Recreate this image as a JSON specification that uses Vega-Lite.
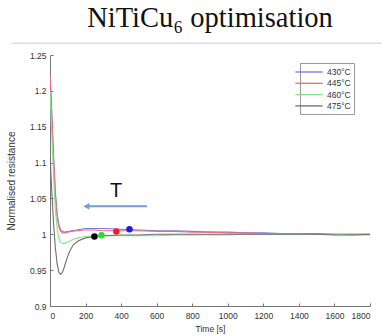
{
  "$schema": "https://vega.github.io/schema/vega-lite/v6.json",
  "width": 320,
  "height": 251,
  "autosize": "none",
  "padding": {"left": 50, "top": 55, "right": 12, "bottom": 30},
  "background": "white",
  "title": {
    "text": "NiTiCu₆ optimisation",
    "font": "Liberation Serif",
    "fontSize": 28.5,
    "fontWeight": "normal",
    "color": "#111",
    "anchor": "middle",
    "offset": 10
  },
  "config": {
    "view": {"stroke": null},
    "font": "Liberation Sans",
    "axis": {
      "domainColor": "#777",
      "tickColor": "#777",
      "labelColor": "#333",
      "titleColor": "#333",
      "labelFont": "Liberation Sans",
      "titleFont": "Liberation Sans",
      "labelFontSize": 8.5,
      "titleFontWeight": "normal",
      "labelOverlap": false,
      "grid": false
    }
  },
  "datasets": {
    "curves": [
      {"t": 0, "r": 1.225, "s": "430°C"}, {"t": 10, "r": 1.17, "s": "430°C"}, {"t": 20, "r": 1.11, "s": "430°C"}, {"t": 30, "r": 1.06, "s": "430°C"}, {"t": 40, "r": 1.028, "s": "430°C"}, {"t": 50, "r": 1.013, "s": "430°C"}, {"t": 60, "r": 1.006, "s": "430°C"}, {"t": 70, "r": 1.004, "s": "430°C"}, {"t": 80, "r": 1.003, "s": "430°C"}, {"t": 100, "r": 1.004, "s": "430°C"}, {"t": 120, "r": 1.005, "s": "430°C"}, {"t": 150, "r": 1.006, "s": "430°C"}, {"t": 200, "r": 1.008, "s": "430°C"}, {"t": 250, "r": 1.008, "s": "430°C"}, {"t": 300, "r": 1.008, "s": "430°C"}, {"t": 400, "r": 1.007, "s": "430°C"}, {"t": 500, "r": 1.006, "s": "430°C"}, {"t": 600, "r": 1.005, "s": "430°C"}, {"t": 700, "r": 1.005, "s": "430°C"}, {"t": 800, "r": 1.004, "s": "430°C"}, {"t": 900, "r": 1.003, "s": "430°C"}, {"t": 1000, "r": 1.003, "s": "430°C"}, {"t": 1100, "r": 1.002, "s": "430°C"}, {"t": 1200, "r": 1.002, "s": "430°C"}, {"t": 1300, "r": 1.001, "s": "430°C"}, {"t": 1400, "r": 1.001, "s": "430°C"}, {"t": 1500, "r": 1.001, "s": "430°C"}, {"t": 1600, "r": 1.0, "s": "430°C"}, {"t": 1700, "r": 1.0, "s": "430°C"}, {"t": 1800, "r": 1.0, "s": "430°C"},

      {"t": 0, "r": 1.222, "s": "445°C"}, {"t": 10, "r": 1.165, "s": "445°C"}, {"t": 20, "r": 1.105, "s": "445°C"}, {"t": 30, "r": 1.055, "s": "445°C"}, {"t": 40, "r": 1.025, "s": "445°C"}, {"t": 50, "r": 1.01, "s": "445°C"}, {"t": 60, "r": 1.004, "s": "445°C"}, {"t": 70, "r": 1.002, "s": "445°C"}, {"t": 80, "r": 1.002, "s": "445°C"}, {"t": 100, "r": 1.003, "s": "445°C"}, {"t": 120, "r": 1.004, "s": "445°C"}, {"t": 150, "r": 1.005, "s": "445°C"}, {"t": 200, "r": 1.006, "s": "445°C"}, {"t": 250, "r": 1.006, "s": "445°C"}, {"t": 300, "r": 1.005, "s": "445°C"}, {"t": 400, "r": 1.005, "s": "445°C"}, {"t": 500, "r": 1.005, "s": "445°C"}, {"t": 600, "r": 1.004, "s": "445°C"}, {"t": 700, "r": 1.004, "s": "445°C"}, {"t": 800, "r": 1.003, "s": "445°C"}, {"t": 900, "r": 1.003, "s": "445°C"}, {"t": 1000, "r": 1.002, "s": "445°C"}, {"t": 1100, "r": 1.002, "s": "445°C"}, {"t": 1200, "r": 1.001, "s": "445°C"}, {"t": 1300, "r": 1.001, "s": "445°C"}, {"t": 1400, "r": 1.001, "s": "445°C"}, {"t": 1500, "r": 1.0, "s": "445°C"}, {"t": 1600, "r": 1.0, "s": "445°C"}, {"t": 1700, "r": 1.0, "s": "445°C"}, {"t": 1800, "r": 1.0, "s": "445°C"},

      {"t": 0, "r": 1.2, "s": "460°C"}, {"t": 10, "r": 1.14, "s": "460°C"}, {"t": 20, "r": 1.08, "s": "460°C"}, {"t": 30, "r": 1.035, "s": "460°C"}, {"t": 40, "r": 1.008, "s": "460°C"}, {"t": 50, "r": 0.994, "s": "460°C"}, {"t": 60, "r": 0.989, "s": "460°C"}, {"t": 75, "r": 0.987, "s": "460°C"}, {"t": 90, "r": 0.988, "s": "460°C"}, {"t": 110, "r": 0.99, "s": "460°C"}, {"t": 130, "r": 0.993, "s": "460°C"}, {"t": 160, "r": 0.995, "s": "460°C"}, {"t": 200, "r": 0.997, "s": "460°C"}, {"t": 250, "r": 0.998, "s": "460°C"}, {"t": 300, "r": 0.998, "s": "460°C"}, {"t": 400, "r": 0.998, "s": "460°C"}, {"t": 500, "r": 0.998, "s": "460°C"}, {"t": 600, "r": 0.998, "s": "460°C"}, {"t": 700, "r": 0.999, "s": "460°C"}, {"t": 800, "r": 0.999, "s": "460°C"}, {"t": 900, "r": 0.999, "s": "460°C"}, {"t": 1000, "r": 0.999, "s": "460°C"}, {"t": 1100, "r": 1.0, "s": "460°C"}, {"t": 1200, "r": 1.0, "s": "460°C"}, {"t": 1300, "r": 1.0, "s": "460°C"}, {"t": 1400, "r": 1.0, "s": "460°C"}, {"t": 1500, "r": 1.0, "s": "460°C"}, {"t": 1600, "r": 1.0, "s": "460°C"}, {"t": 1700, "r": 0.999, "s": "460°C"}, {"t": 1800, "r": 0.999, "s": "460°C"},

      {"t": 0, "r": 1.11, "s": "475°C"}, {"t": 10, "r": 1.06, "s": "475°C"}, {"t": 20, "r": 1.015, "s": "475°C"}, {"t": 30, "r": 0.982, "s": "475°C"}, {"t": 40, "r": 0.959, "s": "475°C"}, {"t": 50, "r": 0.947, "s": "475°C"}, {"t": 60, "r": 0.944, "s": "475°C"}, {"t": 70, "r": 0.947, "s": "475°C"}, {"t": 80, "r": 0.954, "s": "475°C"}, {"t": 95, "r": 0.966, "s": "475°C"}, {"t": 110, "r": 0.976, "s": "475°C"}, {"t": 130, "r": 0.985, "s": "475°C"}, {"t": 160, "r": 0.991, "s": "475°C"}, {"t": 200, "r": 0.995, "s": "475°C"}, {"t": 250, "r": 0.997, "s": "475°C"}, {"t": 300, "r": 0.998, "s": "475°C"}, {"t": 400, "r": 0.999, "s": "475°C"}, {"t": 500, "r": 0.999, "s": "475°C"}, {"t": 600, "r": 1.0, "s": "475°C"}, {"t": 700, "r": 1.0, "s": "475°C"}, {"t": 800, "r": 1.0, "s": "475°C"}, {"t": 900, "r": 1.0, "s": "475°C"}, {"t": 1000, "r": 1.0, "s": "475°C"}, {"t": 1100, "r": 1.0, "s": "475°C"}, {"t": 1200, "r": 1.0, "s": "475°C"}, {"t": 1300, "r": 1.0, "s": "475°C"}, {"t": 1400, "r": 1.0, "s": "475°C"}, {"t": 1500, "r": 1.0, "s": "475°C"}, {"t": 1600, "r": 0.999, "s": "475°C"}, {"t": 1700, "r": 0.999, "s": "475°C"}, {"t": 1800, "r": 1.0, "s": "475°C"}
    ],
    "dots": [
      {"t": 250, "r": 0.997, "c": "black"},
      {"t": 290, "r": 0.9985, "c": "green"},
      {"t": 373, "r": 1.004, "c": "red"},
      {"t": 447, "r": 1.007, "c": "blue"}
    ]
  },
  "layer": [
    {
      "data": {"name": "curves"},
      "mark": {"type": "line", "strokeWidth": 1.1, "clip": true},
      "encoding": {
        "x": {
          "field": "t", "type": "quantitative",
          "scale": {"domain": [0, 1800], "nice": false},
          "axis": {"title": "Time [s]", "tickCount": 9, "format": "d", "labelOverlap": false, "tickSize": -3, "labelPadding": 8, "titleFontSize": 8.5, "titlePadding": 5}
        },
        "y": {
          "field": "r", "type": "quantitative",
          "scale": {"domain": [0.9, 1.25], "nice": false, "zero": false},
          "axis": {"title": "Normalised resistance", "tickCount": 7, "format": "~g", "labelOverlap": false, "tickSize": -3, "labelPadding": 7, "titleFontSize": 10, "titlePadding": 13}
        },
        "color": {
          "field": "s", "type": "nominal",
          "scale": {"domain": ["430°C", "445°C", "460°C", "475°C"], "range": ["#7676e8", "#f06c7c", "#86e486", "#6e6e6e"]},
          "legend": {
            "title": null, "orient": "none", "legendX": 250, "legendY": 8,
            "symbolType": "M-2.6,0H2.6", "symbolSize": 110, "symbolStrokeWidth": 1.3,
            "labelFontSize": 8.5, "labelColor": "#333", "rowPadding": 0.3,
            "strokeColor": "#999", "padding": 3, "labelOffset": 12
          }
        }
      }
    },
    {
      "data": {"name": "dots"},
      "mark": {"type": "point", "filled": true, "opacity": 1, "size": 42},
      "encoding": {
        "x": {"field": "t", "type": "quantitative"},
        "y": {"field": "r", "type": "quantitative"},
        "fill": {"field": "c", "type": "nominal", "scale": {"domain": ["black", "green", "red", "blue"], "range": ["#000000", "#22dd33", "#ee2222", "#1a1aee"]}, "legend": null}
      }
    },
    {
      "data": {"values": [{"t": 200, "t2": 545, "r": 1.039}]},
      "mark": {"type": "rule", "color": "#6a9fd2", "strokeWidth": 2},
      "encoding": {
        "x": {"field": "t", "type": "quantitative"},
        "x2": {"field": "t2"},
        "y": {"field": "r", "type": "quantitative"}
      }
    },
    {
      "data": {"values": [{"t": 205, "r": 1.039}]},
      "mark": {"type": "point", "shape": "triangle-left", "filled": true, "color": "#6a9fd2", "opacity": 1, "size": 45},
      "encoding": {
        "x": {"field": "t", "type": "quantitative"},
        "y": {"field": "r", "type": "quantitative"}
      }
    },
    {
      "data": {"values": [{"t": 372, "r": 1.06, "label": "T"}]},
      "mark": {"type": "text", "font": "Liberation Sans", "fontSize": 20, "color": "#111", "baseline": "middle"},
      "encoding": {
        "x": {"field": "t", "type": "quantitative"},
        "y": {"field": "r", "type": "quantitative"},
        "text": {"field": "label"}
      }
    },
    {
      "data": {"values": [{"a": 1}]},
      "mark": {"type": "rule", "color": "#cccccc", "strokeWidth": 1},
      "encoding": {
        "x": {"datum": -215, "type": "quantitative"},
        "x2": {"datum": 1875},
        "y": {"datum": 1.2665, "type": "quantitative"}
      }
    }
  ]
}
